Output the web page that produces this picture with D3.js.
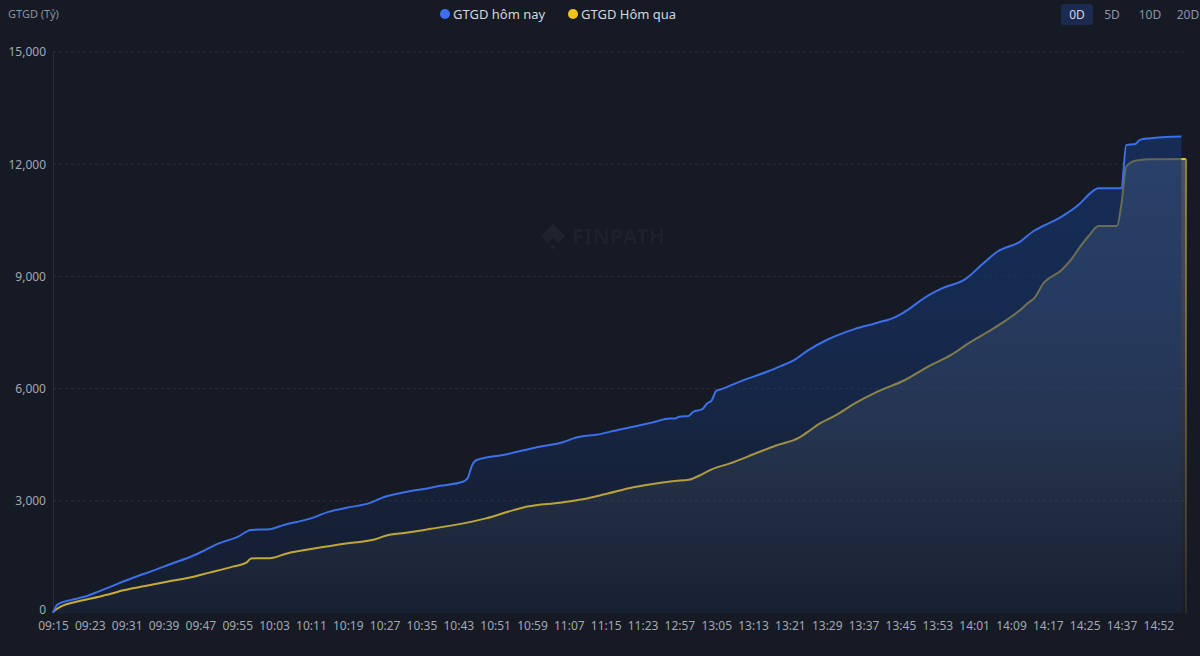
<!DOCTYPE html>
<html>
<head>
<meta charset="utf-8">
<script src="https://cdn.jsdelivr.net/npm/d3@7/dist/d3.min.js"></script>
<style>
  html, body { margin: 0; padding: 0; background: #161a25; }
  svg { display: block; font-family: "Noto Sans", "Open Sans", sans-serif; }
</style>
</head>
<body>
<svg id="chart" width="1200" height="656"></svg>
<script>
// ---- Data ----
const sessions = [["09:15", 136], ["12:57", 94]]; // session start, number of minutes
const extraCategories = ["14:33","14:35","14:37","14:40","14:41","14:42","14:43","14:44","14:45","14:46","14:52","14:53","14:54","14:55","14:56","14:57","14:58"];

const xTickLabels = ["09:15","09:23","09:31","09:39","09:47","09:55","10:03","10:11","10:19","10:27","10:35","10:43","10:51","10:59","11:07","11:15","11:23","12:57","13:05","13:13","13:21","13:29","13:37","13:45","13:53","14:01","14:09","14:17","14:25","14:37","14:52"];
const yTickValues = [0, 3000, 6000, 9000, 12000, 15000];

const todayTimes = ["09:15","09:16","09:19","09:22","09:25","09:29","09:33","09:36","09:41","09:45","09:48","09:51","09:55","09:58","10:02","10:05","10:11","10:15","10:19","10:24","10:26","10:31","10:37","10:39","10:44","10:45","10:46","10:47","10:53","11:00","11:06","11:08","11:14","11:16","11:21","11:25","11:29","11:30","12:57","12:59","13:00","13:02","13:03","13:04","13:05","13:06","13:10","13:16","13:19","13:22","13:25","13:29","13:35","13:40","13:44","13:47","13:50","13:54","13:59","14:03","14:06","14:11","14:14","14:16","14:20","14:24","14:26","14:28","14:37","14:40","14:42","14:43","14:45","14:57"];
const todayValues = [0,230,350,440,580,780,970,1100,1330,1510,1680,1860,2030,2220,2240,2350,2530,2710,2820,2950,3060,3220,3350,3400,3510,3600,3950,4090,4230,4430,4580,4670,4790,4850,4980,5090,5200,5200,5250,5270,5380,5450,5600,5680,5940,5980,6180,6450,6600,6770,7030,7300,7590,7760,7920,8140,8410,8680,8920,9350,9660,9930,10220,10350,10600,10950,11200,11360,11360,12510,12540,12650,12690,12740];

const yesterdayTimes = ["09:15","09:16","09:17","09:20","09:25","09:28","09:30","09:35","09:40","09:45","09:49","09:54","09:57","09:58","10:02","10:06","10:12","10:19","10:25","10:27","10:32","10:37","10:42","10:49","10:55","10:58","11:05","11:10","11:15","11:21","11:27","11:30","12:59","13:02","13:04","13:08","13:14","13:18","13:23","13:25","13:27","13:31","13:35","13:40","13:46","13:51","13:56","14:00","14:04","14:08","14:11","14:13","14:14","14:16","14:20","14:22","14:24","14:26","14:28","14:30","14:35","14:37","14:40","14:42","14:45","14:58"];
const yesterdayValues = [30,120,190,300,436,526,600,720,840,955,1080,1240,1345,1460,1465,1600,1730,1865,1970,2060,2150,2250,2350,2530,2750,2845,2950,3040,3180,3360,3485,3530,3560,3715,3840,4000,4290,4480,4690,4850,5030,5290,5600,5920,6230,6590,6900,7230,7520,7830,8100,8320,8410,8810,9170,9440,9790,10100,10350,10350,10350,10950,11930,12090,12130,12140];

const seriesNames = ["GTGD hôm nay", "GTGD Hôm qua"];
const rangeButtons = ["0D", "5D", "10D", "20D"];

// ---- Build categories ----
function addMinutes(t, m) {
  const [h, mm] = t.split(":").map(Number);
  const tot = h * 60 + mm + m;
  return String(Math.floor(tot / 60)).padStart(2, "0") + ":" + String(tot % 60).padStart(2, "0");
}
const categories = [];
sessions.forEach(([start, n]) => { for (let i = 0; i < n; i++) categories.push(addMinutes(start, i)); });
extraCategories.forEach(c => categories.push(c));

const today = todayTimes.map((t, i) => ({ t, v: todayValues[i] }));
const yesterday = yesterdayTimes.map((t, i) => ({ t, v: yesterdayValues[i] }));

// ---- Layout ----
const svg = d3.select("#chart");
const W = 1200, H = 656;
const pL = 53, pR = 1186, pT = 52, pB = 613;

svg.append("rect").attr("width", W).attr("height", H).attr("fill", "#161a25");

const x = d3.scalePoint().domain(categories).range([pL, pR]);
const y = d3.scaleLinear().domain([0, 15000]).range([pB, pT]);

const defs = svg.append("defs");
const gBlue = defs.append("linearGradient").attr("id", "gBlue")
  .attr("gradientUnits", "userSpaceOnUse").attr("x1", 0).attr("x2", 0)
  .attr("y1", y(d3.max(todayValues))).attr("y2", y(0));
[[0, 0.66], [0.35, 0.58], [0.6, 0.4], [0.75, 0.24], [1, 0.16]].forEach(([o, a]) =>
  gBlue.append("stop").attr("offset", o).attr("stop-color", "#16366f").attr("stop-opacity", a));

const gGrey = defs.append("linearGradient").attr("id", "gGrey")
  .attr("gradientUnits", "userSpaceOnUse").attr("x1", 0).attr("x2", 0)
  .attr("y1", y(d3.max(yesterdayValues))).attr("y2", y(0));
gGrey.append("stop").attr("offset", 0).attr("stop-color", "#646a72").attr("stop-opacity", 0.7);
gGrey.append("stop").attr("offset", 1).attr("stop-color", "#646a72").attr("stop-opacity", 0.03);

const gDrop = defs.append("linearGradient").attr("id", "gDrop")
  .attr("gradientUnits", "userSpaceOnUse").attr("x1", 0).attr("x2", 0)
  .attr("y1", y(d3.max(yesterdayValues))).attr("y2", y(0));
gDrop.append("stop").attr("offset", 0).attr("stop-color", "#a08a30").attr("stop-opacity", 0.9);
gDrop.append("stop").attr("offset", 1).attr("stop-color", "#a08a30").attr("stop-opacity", 0.15);

// watermark
const wm = svg.append("g").attr("fill", "#ffffff").attr("fill-opacity", 0.045);
wm.append("path").attr("d", "M553,224 L565,236 L558,243 L553,238 L548,243 L541,236 Z");
wm.append("circle").attr("cx", 553).attr("cy", 247).attr("r", 2);
wm.append("text").attr("x", 572).attr("y", 244).attr("font-size", 21).attr("font-weight", 700)
  .attr("letter-spacing", 0.5).text("FINPATH");

// grid
const grid = svg.append("g");
grid.selectAll("line").data(yTickValues.filter(v => v > 0)).join("line")
  .attr("x1", pL).attr("x2", pR).attr("y1", d => y(d)).attr("y2", d => y(d))
  .attr("stroke", "#2a303d").attr("stroke-dasharray", "3,3").attr("stroke-width", 1);
svg.append("line").attr("x1", pL + 0.5).attr("x2", pL + 0.5).attr("y1", pT).attr("y2", pB)
  .attr("stroke", "#262b37");

// y axis
const yAxis = svg.append("g").attr("transform", `translate(${pL},0)`)
  .call(d3.axisLeft(y).tickValues(yTickValues).tickFormat(d3.format(",")).tickSize(0).tickPadding(7));
yAxis.select(".domain").remove();
yAxis.selectAll("text").attr("fill", "#a3a8b2").attr("font-size", 12)
  .attr("font-family", "'Noto Sans', sans-serif");
yAxis.selectAll(".tick").filter(d => d === 0).select("text").attr("dy", "0.05em");

svg.append("text").attr("x", 8).attr("y", 18).attr("fill", "#8e939d").attr("font-size", 11).text("GTGD (Tỷ)");

// x axis
const xAxis = svg.append("g").attr("transform", `translate(0,${pB})`)
  .call(d3.axisBottom(x).tickValues(xTickLabels).tickSize(0).tickPadding(8));
xAxis.select(".domain").remove();
xAxis.selectAll("text").attr("fill", "#a3a8b2").attr("font-size", 12)
  .attr("font-family", "'Noto Sans', sans-serif");

// series
const area = d3.area().x(d => x(d.t)).y0(y(0)).y1(d => y(d.v)).curve(d3.curveMonotoneX);
const line = d3.line().x(d => x(d.t)).y(d => y(d.v)).curve(d3.curveMonotoneX);

svg.append("path").datum(yesterday).attr("d", area).attr("fill", "url(#gGrey)");
svg.append("path").datum(yesterday).attr("d", line).attr("fill", "none")
  .attr("stroke", "#ecc52a").attr("stroke-width", 2);
const lastY = yesterday[yesterday.length - 1];
svg.append("line").attr("x1", x(lastY.t)).attr("x2", x(lastY.t))
  .attr("y1", y(lastY.v)).attr("y2", y(0)).attr("stroke", "url(#gDrop)").attr("stroke-width", 2);

svg.append("path").datum(today).attr("d", area).attr("fill", "url(#gBlue)");
svg.append("path").datum(today).attr("d", line).attr("fill", "none")
  .attr("stroke", "#3c70ea").attr("stroke-width", 2);

// legend
const legendColors = ["#3d6ff0", "#f0c419"];
const legendX = [445, 573];
seriesNames.forEach((n, i) => {
  svg.append("circle").attr("cx", legendX[i]).attr("cy", 14).attr("r", 5).attr("fill", legendColors[i]);
  svg.append("text").attr("x", legendX[i] + 8).attr("y", 19).attr("fill", "#d3d6dc")
    .attr("font-size", 13).text(n);
});

// range buttons
const btnX = [1077, 1112, 1150, 1188];
svg.append("rect").attr("x", 1061).attr("y", 4).attr("width", 32).attr("height", 21).attr("rx", 3)
  .attr("fill", "#1b2b4f");
rangeButtons.forEach((b, i) => {
  svg.append("text").attr("x", btnX[i]).attr("y", 19).attr("text-anchor", "middle")
    .attr("font-size", 12).attr("fill", i === 0 ? "#cdd6ea" : "#8e96a6").text(b);
});
</script>
</body>
</html>
